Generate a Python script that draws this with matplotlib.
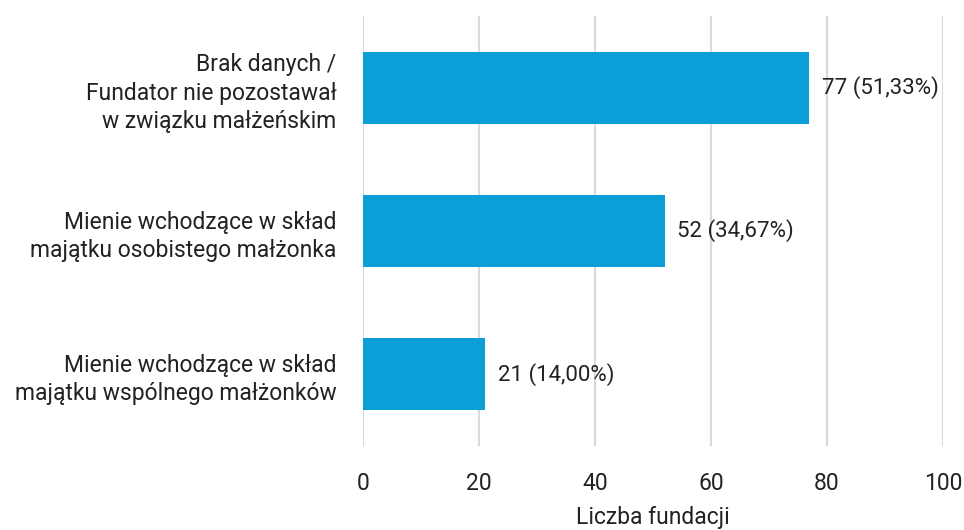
import matplotlib
matplotlib.use("Agg")
import matplotlib.pyplot as plt

categories = [
    "Brak danych /\nFundator nie pozostawał\nw związku małżeńskim",
    "Mienie wchodzące w skład\nmajątku osobistego małżonka",
    "Mienie wchodzące w skład\nmajątku wspólnego małżonków",
]
values = [77, 52, 21]
percent_labels = ["51,33%", "34,67%", "14,00%"]
x_ticks = [0, 20, 40, 60, 80, 100]
x_label = "Liczba fundacji"

plt.rcParams['font.family'] = ['Roboto', 'DejaVu Sans']

fig = plt.figure(figsize=(9.64, 5.30), dpi=100)
ax = fig.add_axes([0.3766, 0.1594, 0.6014, 0.8095])

ypos = list(range(len(categories)))
ax.barh(ypos, values, height=0.5, color="#0b9ed7", zorder=3)
for y, v, p in zip(ypos, values, percent_labels):
    ax.text(v + 2.2, y, f"{v} ({p})", va="center", ha="left", fontsize=16, color="#222222")

ax.set_xlim(0, 100)
ax.set_ylim(2.5, -0.5)
ax.set_yticks(ypos)
ax.set_yticklabels(categories, fontsize=16.5, color="#222222", linespacing=1.3)
ax.set_xticks(x_ticks)
ax.set_xticklabels([str(t) for t in x_ticks], fontsize=16.5, color="#222222")
ax.set_xlabel(x_label, fontsize=16.5, color="#222222", labelpad=8)

ax.grid(axis="x", color="#d9d9d9", linewidth=1.5, zorder=0)
ax.tick_params(axis="both", length=0)
ax.tick_params(axis="x", pad=19)
ax.tick_params(axis="y", pad=19)
for s in ax.spines.values():
    s.set_visible(False)

fig.savefig("out.png", dpi=100)
